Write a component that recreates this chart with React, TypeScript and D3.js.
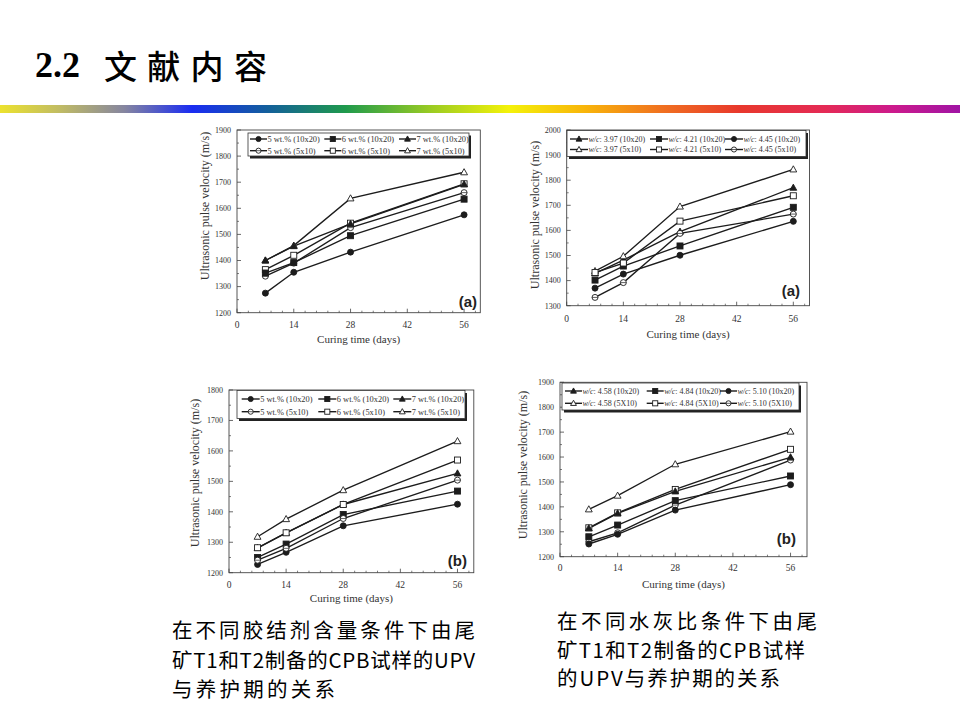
import React from "react";
import * as d3 from "d3";

// ---------- data ----------
const DAYS = [7, 14, 28, 56];
const X_TICKS = [0, 14, 28, 42, 56];

const WT_LABELS = ["5 wt.% (10x20)", "6 wt.% (10x20)", "7 wt.% (10x20)", "5 wt.% (5x10)", "6 wt.% (5x10)", "7 wt.% (5x10)"];
const WT_MARKERS = ["circle", "square", "triangle", "circle", "square", "triangle"];
const WT_FILLED = [true, true, true, false, false, false];

const A1_VALUES = [
  [1275, 1355, 1432, 1575],
  [1352, 1392, 1495, 1635],
  [1400, 1455, 1540, 1692],
  [1340, 1390, 1526, 1660],
  [1365, 1420, 1543, 1694],
  [1400, 1457, 1638, 1738],
];

const A2_LABELS = ["w/c: 3.97 (10x20)", "w/c: 4.21 (10x20)", "w/c: 4.45 (10x20)", "w/c: 3.97 (5x10)", "w/c: 4.21 (5x10)", "w/c: 4.45 (5x10)"];
const WC_MARKERS = ["triangle", "square", "circle", "triangle", "square", "circle"];
const WC_FILLED = [true, true, true, false, false, false];
const A2_VALUES = [
  [1429, 1482, 1595, 1770],
  [1402, 1458, 1538, 1692],
  [1370, 1426, 1501, 1636],
  [1438, 1497, 1695, 1843],
  [1432, 1470, 1637, 1738],
  [1333, 1392, 1588, 1665],
];

const B1_VALUES = [
  [1227, 1267, 1354, 1425],
  [1250, 1294, 1391, 1468],
  [1281, 1331, 1424, 1526],
  [1241, 1280, 1378, 1504],
  [1282, 1331, 1424, 1570],
  [1318, 1376, 1471, 1632],
];

const B2_LABELS = ["w/c: 4.58 (10x20)", "w/c: 4.84 (10x20)", "w/c: 5.10 (10x20)", "w/c: 4.58 (5X10)", "w/c: 4.84 (5X10)", "w/c: 5.10 (5X10)"];
const B2_VALUES = [
  [1314, 1374, 1462, 1599],
  [1280, 1327, 1425, 1524],
  [1251, 1290, 1387, 1489],
  [1390, 1445, 1571, 1702],
  [1316, 1376, 1470, 1631],
  [1260, 1296, 1407, 1588],
];

const TITLE_NUM = "2.2";
const TITLE_CJK = "文献内容";
const CAPTION_LEFT = ["在不同胶结剂含量条件下由尾", "矿T1和T2制备的CPB试样的UPV", "与养护期的关系"];
const CAPTION_RIGHT = ["在不同水灰比条件下由尾", "矿T1和T2制备的CPB试样", "的UPV与养护期的关系"];

// ---------- layout ----------
const PANELS = [
  {
    left: 237, right: 480.3, top: 130, bottom: 312.7, yDomain: [1200, 1900], tag: "(a)", tagX: 477, tagY: 307,
    values: A1_VALUES, labels: WT_LABELS, markers: WT_MARKERS, filled: WT_FILLED, italicWc: false, filledOnTop: true,
    legend: { x: 248, y: 133, w: 221, h: 23, rows: [139, 150.7], cols: [250, 324.3, 399], len: 17, fs: 8.4 },
    yTitleX: 205, yTitleY: 206, xTitleY: 339, xTickY: 325,
  },
  {
    left: 566.7, right: 809.5, top: 130, bottom: 305.7, yDomain: [1300, 2000], tag: "(a)", tagX: 800, tagY: 296,
    values: A2_VALUES, labels: A2_LABELS, markers: WC_MARKERS, filled: WC_FILLED, italicWc: true, filledOnTop: false,
    legend: { x: 567, y: 130.5, w: 239, h: 26, rows: [139, 149.5], cols: [570, 650, 725], len: 18, fs: 8 },
    yTitleX: 535, yTitleY: 215, xTitleY: 334, xTickY: 319,
  },
  {
    left: 229, right: 473.8, top: 390, bottom: 572.7, yDomain: [1200, 1800], tag: "(b)", tagX: 467, tagY: 566,
    values: B1_VALUES, labels: WT_LABELS, markers: WT_MARKERS, filled: WT_FILLED, italicWc: false, filledOnTop: false,
    legend: { x: 237, y: 390.5, w: 228, h: 28, rows: [399, 411.7], cols: [241.7, 318.3, 393.3], len: 18, fs: 8.4 },
    yTitleX: 195, yTitleY: 473, xTitleY: 598, xTickY: 585,
  },
  {
    left: 560, right: 807, top: 382.3, bottom: 556.7, yDomain: [1200, 1900], tag: "(b)", tagX: 796, tagY: 544,
    values: B2_VALUES, labels: B2_LABELS, markers: WC_MARKERS, filled: WC_FILLED, italicWc: true, filledOnTop: true,
    legend: { x: 562, y: 383, w: 237, h: 27, rows: [391, 403.3], cols: [565, 646.7, 720], len: 17, fs: 8 },
    yTitleX: 523, yTitleY: 465, xTitleY: 584, xTickY: 568,
  },
];

const INK = "#1c1c1c";
const TXT = "#333";
const SERIF = "'Liberation Serif', 'Times New Roman', serif";
const CJK = "'Noto Sans CJK SC', sans-serif";

function Marker({ type, filled, x, y, k }: { type: string; filled: boolean; x: number; y: number; k?: number }) {
  const s = k ?? 1;
  const fill = filled ? INK : "#fff";
  const sw = 0.9;
  if (type === "circle") {
    return (
      <g>
        <circle cx={x} cy={y} r={3 * s} fill={fill} stroke={INK} strokeWidth={sw} />
        {!filled && <line x1={x - 3 * s} x2={x + 3 * s} y1={y} y2={y} stroke={INK} strokeWidth={0.7} />}
      </g>
    );
  }
  if (type === "square") {
    const h = 3 * s;
    return <rect x={x - h} y={y - h} width={2 * h} height={2 * h} fill={fill} stroke={INK} strokeWidth={sw} />;
  }
  const r = 3.6 * s;
  const pts = `${x},${y - r} ${x + r * 0.95},${y + r * 0.7} ${x - r * 0.95},${y + r * 0.7}`;
  return <polygon points={pts} fill={fill} stroke={INK} strokeWidth={sw} />;
}

function Panel({ cfg }: { cfg: any }) {
  const x = d3.scaleLinear().domain([0, 60]).range([cfg.left, cfg.right]);
  const y = d3.scaleLinear().domain(cfg.yDomain).range([cfg.bottom, cfg.top]);
  const yTicks = d3.range(cfg.yDomain[0], cfg.yDomain[1] + 1, 100);
  const yMinor = d3.range(cfg.yDomain[0] + 50, cfg.yDomain[1], 100);
  const xMinor = d3.range(0, 60, 2.8).filter((d) => Math.abs(d / 14 - Math.round(d / 14)) > 0.01);
  const line = d3
    .line<number>()
    .x((_, i) => x(DAYS[i]))
    .y((d) => y(d));
  const lg = cfg.legend;
  const midX = (cfg.left + cfg.right) / 2;
  const order = cfg.values.map((_: any, i: number) => i);
  const markerOrder = cfg.filledOnTop ? [...order].reverse() : order;
  return (
    <g>
      {/* frame */}
      <rect x={cfg.left} y={cfg.top} width={cfg.right - cfg.left} height={cfg.bottom - cfg.top} fill="none" stroke="#444" strokeWidth={0.9} />
      {/* ticks */}
      {yTicks.map((t: number) => (
        <g key={"yt" + t}>
          <line x1={cfg.left} x2={cfg.left + 4} y1={y(t)} y2={y(t)} stroke="#444" strokeWidth={0.8} />
          <text x={cfg.left - 6} y={y(t)} dy="0.35em" textAnchor="end" fontSize={8} fontFamily={SERIF} fill={TXT}>
            {t}
          </text>
        </g>
      ))}
      {yMinor.map((t: number) => (
        <line key={"ym" + t} x1={cfg.left} x2={cfg.left + 2} y1={y(t)} y2={y(t)} stroke="#444" strokeWidth={0.7} />
      ))}
      {X_TICKS.map((t) => (
        <g key={"xt" + t}>
          <line x1={x(t)} x2={x(t)} y1={cfg.bottom} y2={cfg.bottom - 4} stroke="#444" strokeWidth={0.8} />
          <text x={x(t)} y={cfg.xTickY} dy="0.35em" textAnchor="middle" fontSize={9.5} fontFamily={SERIF} fill={TXT}>
            {t}
          </text>
        </g>
      ))}
      {xMinor.map((t: number) => (
        <line key={"xm" + t} x1={x(t)} x2={x(t)} y1={cfg.bottom} y2={cfg.bottom - 2} stroke="#444" strokeWidth={0.7} />
      ))}
      {/* axis titles */}
      <text x={midX} y={cfg.xTitleY} dy="0.35em" textAnchor="middle" fontSize={11} fontFamily={SERIF} fill={TXT}>
        Curing time (days)
      </text>
      <text
        transform={`translate(${cfg.yTitleX},${cfg.yTitleY}) rotate(-90)`}
        textAnchor="middle"
        dy="0.35em"
        fontSize={12}
        fontFamily={SERIF}
        fill={TXT}
      >
        Ultrasonic pulse velocity (m/s)
      </text>
      {/* series */}
      {cfg.values.map((vals: number[], si: number) => (
        <path key={"l" + si} d={line(vals) || ""} fill="none" stroke={INK} strokeWidth={1.35} />
      ))}
      {markerOrder.map((si: number) =>
        cfg.values[si].map((v: number, i: number) => (
          <Marker key={`m${si}-${i}`} type={cfg.markers[si]} filled={cfg.filled[si]} x={x(DAYS[i])} y={y(v)} />
        ))
      )}
      {/* legend */}
      <rect x={lg.x + 2} y={lg.y + 2.5} width={lg.w} height={lg.h} fill="#222" />
      <rect x={lg.x} y={lg.y} width={lg.w} height={lg.h} fill="#fff" stroke="#333" strokeWidth={0.8} />
      {cfg.labels.map((lab: string, i: number) => {
        const col = i % 3;
        const row = Math.floor(i / 3);
        const lx = lg.cols[col];
        const ly = lg.rows[row];
        const parts = cfg.italicWc ? [lab.slice(0, 3), lab.slice(3)] : [lab];
        return (
          <g key={"lg" + i}>
            <line x1={lx} x2={lx + lg.len} y1={ly} y2={ly} stroke={INK} strokeWidth={1.4} />
            <Marker type={cfg.markers[i]} filled={cfg.filled[i]} x={lx + lg.len / 2} y={ly} k={0.85} />
            <text x={lx + lg.len + 0.5} y={ly} dy="0.35em" fontSize={lg.fs} fontFamily={SERIF} fill={TXT}>
              {parts.length === 2 ? (
                <>
                  <tspan fontStyle="italic">{parts[0]}</tspan>
                  <tspan>{parts[1]}</tspan>
                </>
              ) : (
                parts[0]
              )}
            </text>
          </g>
        );
      })}
      {/* panel tag */}
      <text x={cfg.tagX} y={cfg.tagY} textAnchor="end" fontSize={15} fontWeight="bold" fontFamily="'Liberation Sans', Arial, sans-serif" fill="#222">
        {cfg.tag}
      </text>
    </g>
  );
}

const RAINBOW = [
  ["0%", "#ece22e"],
  ["6%", "#c2bd62"],
  ["13%", "#8585a0"],
  ["20%", "#1a2cf2"],
  ["28%", "#13609a"],
  ["36%", "#1f9a4c"],
  ["45%", "#9ccc22"],
  ["53%", "#f4f20a"],
  ["61%", "#f8b40a"],
  ["69%", "#f07020"],
  ["77%", "#e8382c"],
  ["86%", "#e42a56"],
  ["93%", "#cc1a8c"],
  ["100%", "#a014a4"],
];

export default function App() {
  return (
    <svg width={960} height={720} style={{ display: "block", position: "absolute", left: 0, top: 0 }}>
      <defs>
        <linearGradient id="rb" x1="0" x2="1" y1="0" y2="0">
          {RAINBOW.map(([o, c]) => (
            <stop key={o} offset={o} stopColor={c} />
          ))}
        </linearGradient>
      </defs>
      <rect x={0} y={0} width={960} height={720} fill="#fff" />
      {/* title */}
      <text x={35} y={77} fontSize={36} fontWeight="bold" fontFamily={SERIF} fill="#000">
        {TITLE_NUM}
      </text>
      <text x={104} y={79} fontSize={33} fontFamily={CJK} fontWeight={500} letterSpacing={10.3} fill="#000">
        {TITLE_CJK}
      </text>
      <rect x={0} y={105} width={960} height={8} fill="url(#rb)" />
      {PANELS.map((p, i) => (
        <Panel key={i} cfg={p} />
      ))}
      {/* captions */}
      {CAPTION_LEFT.map((t, i) => (
        <text
          key={"cl" + i}
          x={172}
          y={638 + i * 29.5}
          fontSize={20.5}
          fontFamily={CJK}
          fill="#000"
          textLength={i === 2 ? 163 : 303}
          lengthAdjust="spacing"
        >
          {t}
        </text>
      ))}
      {CAPTION_RIGHT.map((t, i) => (
        <text
          key={"cr" + i}
          x={557}
          y={629 + i * 28.5}
          fontSize={20.5}
          fontFamily={CJK}
          fill="#000"
          textLength={i === 0 ? 260 : i === 1 ? 248 : 223}
          lengthAdjust="spacing"
        >
          {t}
        </text>
      ))}
    </svg>
  );
}
